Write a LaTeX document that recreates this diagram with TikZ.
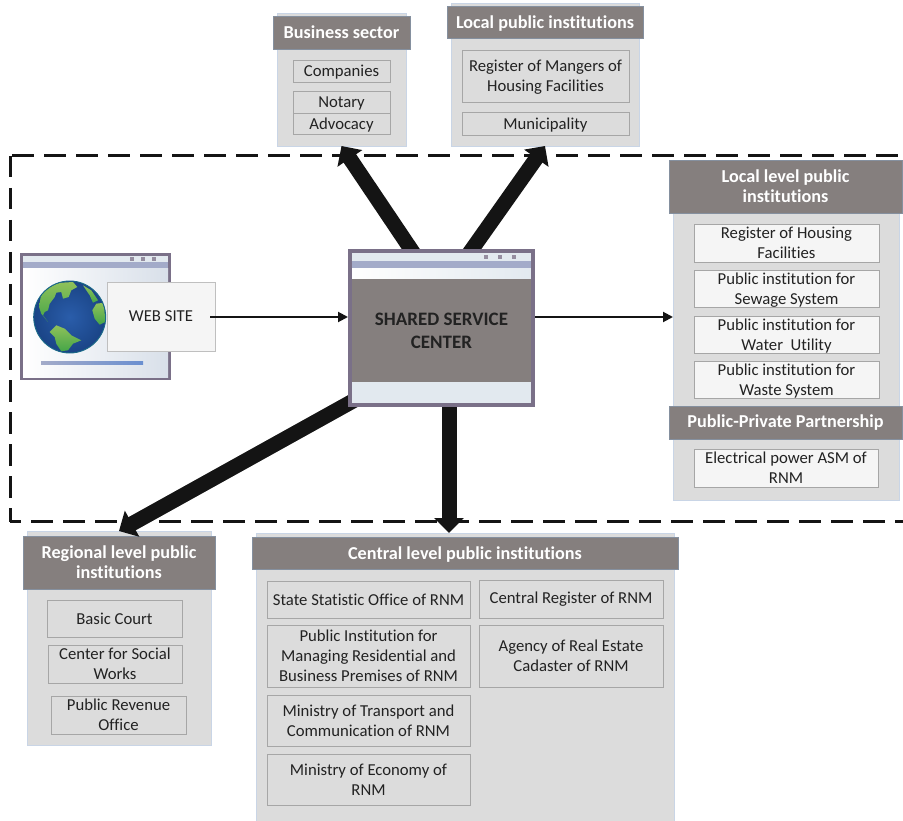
\documentclass[tikz,border=0pt]{standalone}
\usepackage{fontspec}
\setmainfont[Ligatures=NoCommon]{Carlito}
\usetikzlibrary{arrows.meta}
\definecolor{panelfill}{HTML}{DCDCDC}
\definecolor{paneledge}{HTML}{C9D5E6}
\definecolor{headfill}{HTML}{857F7E}
\definecolor{headedge}{HTML}{85909F}
\definecolor{boxedge}{HTML}{A6A6A6}
\definecolor{winedge}{HTML}{7A7088}
\definecolor{winband}{HTML}{A3ABC9}
\definecolor{winlight}{HTML}{E2E9EF}
\definecolor{inktext}{HTML}{222222}
\definecolor{barright}{HTML}{6A8FD0}
\definecolor{seainner}{HTML}{2A5DAA}
\definecolor{seaouter}{HTML}{1A4486}
\definecolor{globerim}{HTML}{1A6A88}
\definecolor{landtop}{HTML}{8FC15A}
\definecolor{landlow}{HTML}{45A548}
\newcommand\pbx[7]{\node[#1,minimum width={(#5-#3)*1pt},minimum height={(#6-#4)*1pt}] (#2) at ({(#3+#5)/2},{(#4+#6)/2}) {#7};}
\newcommand\nudged[1]{\raisebox{-1.5pt}[\height][\depth]{#1}}
\tikzset{
  base/.style={inner sep=0pt,outer sep=0pt,align=center,text=inktext,font=\fontsize{16.7}{20}\selectfont},
  panel/.style={base,fill=panelfill,draw=paneledge,line width=0.8pt},
  header/.style={base,fill=headfill,draw=headedge,line width=0.7pt,text=white,font=\fontsize{18.2}{20}\selectfont\bfseries},
  item/.style={base,fill=panelfill,draw=boxedge,line width=0.9pt},
  whiteitem/.style={item,fill=white!96!black},
  bigarrow/.style={line width=15pt,draw=black!92,-{Triangle[length=15pt,width=29pt]}},
  thinarrow/.style={line width=2pt,draw=black!92,-{Triangle[length=10pt,width=10pt]}},
  frame/.style={line width=3pt,draw=black!92,dash pattern=on 21.5pt off 10.5pt},
  windot/.style={fill=winedge!80}
}
\begin{document}
\begin{tikzpicture}[x=1pt,y=-1pt]
\useasboundingbox (0,0) rectangle (903,821);
\fill[white] (0,0) rectangle (903,821);
% dashed frame
\draw[frame,dash phase=30pt] (10,156) -- (903,156);
\draw[frame] (10,156) -- (10,521.5);
\draw[frame,dash phase=11pt] (10,521.5) -- (903,521.5);
% business sector
\pbx{panel}{biz}{277}{13}{406}{146}{}
\pbx{header}{bizh}{273}{16}{410}{49}{Business sector}
\pbx{item}{comp}{293}{60}{390}{82}{\nudged{Companies}}
\pbx{item}{nota}{293}{91}{390}{113}{\nudged{Notary}}
\pbx{item}{advo}{293}{113}{390}{134}{\nudged{Advocacy}}
% local public
\pbx{panel}{lpi}{451}{3}{639}{146}{}
\pbx{header}{lpih}{447}{6}{643}{38}{\nudged{Local public institutions}}
\pbx{item}{regm}{462}{50}{629}{102}{\nudged{Register of Mangers of}\\\nudged{Housing Facilities}}
\pbx{item}{muni}{462}{112}{629}{135}{\nudged{Municipality}}
% local level
\pbx{panel}{llp}{673}{200}{899}{500}{}
\pbx{header}{llph}{669}{160}{902}{213}{Local level public\\institutions}
\pbx{whiteitem}{regh}{694}{224}{879}{262}{Register of Housing\\Facilities}
\pbx{whiteitem}{sewa}{694}{270}{879}{307}{\nudged{Public institution for}\\\nudged{Sewage System}}
\pbx{whiteitem}{wate}{694}{316}{879}{353}{\nudged{Public institution for}\\\nudged{Water\ \ Utility}}
\pbx{whiteitem}{wast}{694}{361}{879}{398}{\nudged{Public institution for}\\\nudged{Waste System}}
\pbx{header}{pppp}{669}{406}{902}{439}{Public-Private Partnership}
\pbx{whiteitem}{elec}{694}{449}{878}{487}{Electrical power ASM of\\RNM}
% regional
\pbx{panel}{reg}{27}{531}{211}{745}{}
\pbx{header}{regh2}{23}{536}{215}{589}{Regional level public\\institutions}
\pbx{item}{cour}{47}{600}{182}{637}{Basic Court}
\pbx{item}{soci}{48}{645}{182}{683}{Center for Social\\Works}
\pbx{item}{reve}{51}{696}{186}{734}{Public Revenue\\Office}
% central
\pbx{panel}{cen}{256}{533}{674}{830}{}
\pbx{header}{cenh}{252}{537}{678}{569}{\nudged{Central level public institutions}}
\pbx{item}{stat}{267}{581}{470}{618}{State Statistic Office of RNM}
\pbx{item}{mana}{267}{625}{470}{687}{Public Institution for\\Managing Residential and\\Business Premises of RNM}
\pbx{item}{tran}{267}{695}{470}{746}{Ministry of Transport and\\Communication of RNM}
\pbx{item}{econ}{267}{754}{470}{805}{Ministry of Economy of\\RNM}
\pbx{item}{creg}{479}{580}{663}{618}{Central Register of RNM}
\pbx{item}{agen}{479}{625}{663}{687}{Agency of Real Estate\\Cadaster of RNM}
% web site window
\pbx{base,fill=winlight,draw=winedge,line width=3pt}{webwin}{21.5}{254.5}{169.5}{378.5}{}
\fill[winband] (23,262) rectangle (168,269);
\shade[left color=white,right color=winlight!85!winband] (23,269) rectangle (168,377);
\foreach \dx in {132,143,154}{\fill[windot] (\dx-1.7,257.3) rectangle (\dx+1.7,260.7);}
\shade[left color=winband,right color=barright] (41,361.8) rectangle (143,364.2);
% globe
\shade[inner color=seainner,outer color=seaouter] (69.7,317) circle (36);
\begin{scope}
\clip (69.7,317) circle (35.5);
\shade[top color=landtop,bottom color=landlow]
 (50.7,285.3) -- (61.3,282.7) -- (73,282) -- (77.3,287) -- (71.3,290.3) -- (68.7,297) -- (63,298.7) -- (61.3,292) -- (56.3,292.7) -- (54.7,297) -- (49.7,303.7) -- (48,310.3) -- (44.7,312) -- (43,315.3) -- (48,322) -- (41.3,313.7) -- (39,307) -- (40.7,297) -- (44.7,290.3) -- cycle;
\shade[top color=landtop,bottom color=landlow]
 (49.7,332) -- (56.3,325.3) -- (64.7,328.7) -- (71.3,335.3) -- (81.3,340.3) -- (73,343.7) -- (68,350.3) -- (61.3,351.3) -- (56.3,343.7) -- (54.7,337) -- cycle;
\shade[top color=landtop,bottom color=landlow]
 (96.3,303.7) -- (104,302.7) -- (105.3,322) -- (99.7,324.7) -- (94.7,318.7) -- (92.3,310.3) -- cycle;
\shade[top color=landtop,bottom color=landlow]
 (83,285.3) -- (91.3,290.3) -- (98,300.3) -- (93,302.7) -- (89.7,295.3) -- cycle;
\end{scope}
\draw[line width=0.9pt,draw=globerim] (69.7,317) circle (36);
\pbx{base,fill=white!96!black,draw=black!25,line width=0.8pt}{web}{107}{282}{215}{351}{WEB SITE}
% shared service centre outline reserved first, connectors beneath the window
\pbx{base}{ssc}{348}{249}{535}{407}{}
\draw[bigarrow] ([xshift=-22pt,yshift=-13pt]ssc.north) -- (biz.south);
\draw[bigarrow] ([xshift=21.5pt,yshift=-13pt]ssc.north) -- (lpi.south);
\draw[bigarrow] ([xshift=-61.5pt,yshift=21pt]ssc.south) -- (reg.north);
\draw[bigarrow] ([xshift=7.5pt,yshift=5pt]ssc.south) -- ([xshift=-16pt]cen.north);
\draw[thinarrow] ([xshift=-5pt,yshift=-0.5pt]web.east) -- ([yshift=-0.5pt]web.east -| ssc.west);
\draw[thinarrow] ([yshift=-0.5pt]web.east -| ssc.east) -- ([yshift=-0.5pt]web.east -| llp.west);
% shared service centre window
\fill[winlight] (ssc.north west) rectangle (ssc.south east);
\fill[winband] (350,261) rectangle (533,269);
\shade[left color=white,right color=winlight] (350,269) rectangle (533,279);
\fill[headfill] (350,279) rectangle (533,382);
\foreach \dx in {486,500,514}{\fill[windot] (\dx-2,255) rectangle (\dx+2,259);}
\draw[winedge,line width=4pt] (350,251) rectangle (533,405);
\node[base,font=\fontsize{19}{23}\selectfont\bfseries] (ssct) at (441.5,331) {SHARED SERVICE\\CENTER};
\end{tikzpicture}
\end{document}
